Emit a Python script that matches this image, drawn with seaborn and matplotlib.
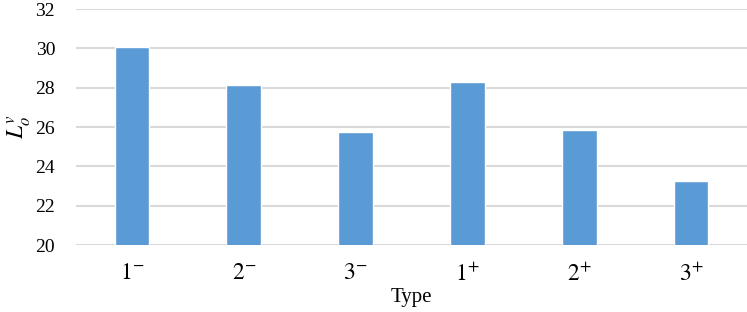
import pandas as pd
import seaborn as sns
import matplotlib.pyplot as plt

types = ["$1^{-}$", "$2^{-}$", "$3^{-}$", "$1^{+}$", "$2^{+}$", "$3^{+}$"]
values = [30.07, 28.15, 25.75, 28.3, 25.85, 23.25]

df = pd.DataFrame({"Type": types, "L": values})

sns.set_style("white")
plt.rcParams["font.family"] = ["Liberation Serif", "DejaVu Serif"]
plt.rcParams["mathtext.fontset"] = "stix"
plt.rcParams["text.color"] = "black"
plt.rcParams["axes.labelcolor"] = "black"
plt.rcParams["xtick.color"] = "black"
plt.rcParams["ytick.color"] = "black"

fig = plt.figure(figsize=(7.47, 3.12), dpi=100)
ax = fig.add_axes([76 / 747, 1 - 245 / 312, 671 / 747, 236 / 312])

sns.barplot(data=df, x="Type", y="L", color="#5B9BD5", width=0.31,
            saturation=1, ax=ax, zorder=3)

ax.set_ylim(20, 32)
ax.set_yticks(range(20, 33, 2))
ax.set_xlim(-0.5, 5.5)
ax.grid(axis="y", color="#D9D9D9", linewidth=1.5, zorder=0)
for s in ax.spines.values():
    s.set_visible(False)
ax.tick_params(axis="y", labelsize=14, length=0, pad=15)
ax.tick_params(axis="x", labelsize=17, length=0, pad=13)
ax.set_xlabel("Type", fontsize=15, labelpad=2)
ax.set_ylabel("$L_o^v$", fontsize=17, labelpad=2)

fig.savefig("out.png", dpi=100)
